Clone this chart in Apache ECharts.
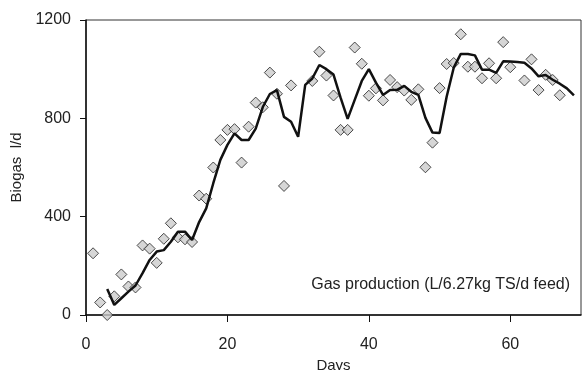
<!DOCTYPE html>
<html>
<head>
<meta charset="utf-8">
<script src="https://cdn.jsdelivr.net/npm/echarts@6/dist/echarts.min.js"></script>
<style>
  html, body { margin: 0; padding: 0; background: #fff; }
  #chart { width: 582px; height: 370px; }
</style>
</head>
<body>
<div id="chart"></div>
<script>
// daily measured biogas (diamonds)
var gasDays = [1, 2, 3, 4, 5, 6, 7, 8, 9, 10, 11, 12, 13, 14, 15, 16, 17, 18, 19, 20,
  21, 22, 23, 24, 25, 26, 27, 28, 29, 32, 33, 34, 35, 36, 37, 38, 39, 40, 41, 42,
  43, 44, 45, 46, 47, 48, 49, 50, 51, 52, 53, 54, 55, 56, 57, 58, 59, 60, 62, 63,
  64, 65, 66, 67];
var gasValues = [251, 51, 0, 76, 165, 116, 112, 283, 270, 212, 310, 373, 316, 308, 297, 486, 473, 600, 712, 753,
  756, 620, 766, 864, 845, 986, 900, 525, 934, 952, 1071, 974, 893, 753, 753, 1088, 1022, 892, 922, 873,
  956, 927, 913, 875, 918, 601, 701, 923, 1021, 1025, 1142, 1010, 1010, 963, 1024, 963, 1110, 1008, 954, 1040,
  915, 977, 956, 894];

// trend line
var trendDays = [3, 4, 5, 6, 7, 8, 9, 10, 11, 12, 13, 14, 15, 16, 17, 18, 19, 20, 21, 22,
  23, 24, 25, 26, 27, 28, 29, 30, 31, 32, 33, 34, 35, 36, 37, 38, 39, 40, 41, 42,
  43, 44, 45, 46, 47, 48, 49, 50, 51, 52, 53, 54, 55, 56, 57, 58, 59, 60, 61, 62,
  63, 64, 65, 66, 67, 68, 69];
var trendValues = [106, 41, 68, 95, 120, 170, 224, 258, 264, 298, 339, 339, 305, 378, 434, 536, 631, 692, 739, 712,
  712, 758, 846, 899, 915, 806, 786, 725, 936, 962, 1017, 1000, 978, 884, 798, 875, 952, 1000, 945, 895,
  915, 916, 932, 908, 895, 802, 742, 740, 888, 1006, 1062, 1062, 1056, 998, 998, 985, 1032, 1031, 1029, 1026,
  1003, 971, 976, 957, 941, 922, 893];

var xTicks = [0, 20, 40, 60];
var yTicks = [0, 400, 800, 1200];

var font = '"Liberation Sans Narrow", "Arial Narrow", "Liberation Sans", Arial, sans-serif';

var chart = echarts.init(document.getElementById('chart'));
chart.setOption({
  backgroundColor: '#fff',
  animation: false,
  grid: {
    left: 86,
    right: 1,
    top: 20,
    bottom: 55,
    outerBoundsMode: 'none',
    show: true,
    borderColor: '#333',
    borderWidth: 1
  },
  xAxis: {
    type: 'value',
    min: 0,
    max: 70,
    interval: 20,
    name: 'Days',
    nameLocation: 'middle',
    nameGap: 38,
    nameTextStyle: { fontFamily: font, fontSize: 15, color: '#222' },
    splitLine: { show: false },
    axisLine: { lineStyle: { color: '#111', width: 1.5 } },
    axisTick: { length: 7, lineStyle: { color: '#111' }, customValues: xTicks },
    axisLabel: { fontFamily: font, fontSize: 16, color: '#222', margin: 22, customValues: xTicks }
  },
  yAxis: {
    type: 'value',
    min: 0,
    max: 1200,
    interval: 400,
    name: 'Biogas  l/d',
    nameLocation: 'middle',
    nameGap: 56,
    nameTextStyle: { fontFamily: font, fontSize: 15, color: '#222' },
    splitLine: { show: false },
    axisLine: { show: true, lineStyle: { color: '#111', width: 1.5 } },
    axisTick: { show: true, length: 6, lineStyle: { color: '#111' }, customValues: yTicks },
    axisLabel: {
      fontFamily: font, fontSize: 16, color: '#222', margin: 15, customValues: yTicks,
      formatter: function (v) { return String(v); }
    }
  },
  graphic: [{
    type: 'text',
    right: 12,
    top: 277,
    style: {
      text: 'Gas production (L/6.27kg TS/d feed)',
      font: '16px ' + font,
      fill: '#222'
    }
  }],
  series: [
    {
      type: 'scatter',
      symbol: 'diamond',
      symbolSize: 11,
      itemStyle: { color: '#cccccc', borderColor: '#222', borderWidth: 1 },
      data: gasDays.map(function (d, i) { return [d, gasValues[i]]; }),
      z: 2
    },
    {
      type: 'line',
      showSymbol: false,
      lineStyle: { color: '#111', width: 2.5 },
      data: trendDays.map(function (d, i) { return [d, trendValues[i]]; }),
      z: 3
    }
  ]
});
</script>
</body>
</html>
